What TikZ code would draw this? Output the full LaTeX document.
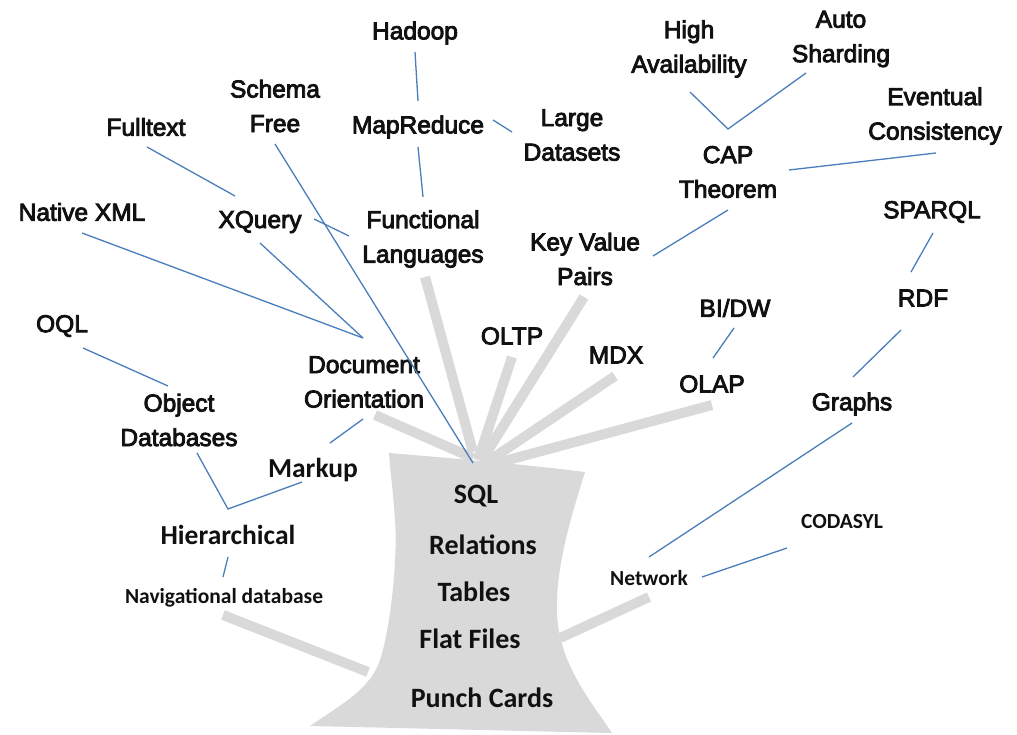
\documentclass[tikz,border=0pt]{standalone}
\usepackage{fontspec}
\newfontfamily\arialf{Liberation Sans}[FakeBold=3.5]
\newfontfamily\calf{Carlito}
\definecolor{trunkgray}{HTML}{D9D9D9}
\definecolor{linkblue}{HTML}{4A7EBB}
\definecolor{inkcol}{HTML}{111111}
\tikzset{
  lbl/.style={inner sep=0pt, align=center, text=inkcol, yshift=-2pt,
    font=\arialf\fontsize{24.5}{34.5}\selectfont},
  cal/.style={inner sep=0pt, align=center, text=inkcol, yshift=-2pt,
    font=\calf\bfseries\fontsize{27.5}{33}\selectfont},
  calsmall/.style={cal, font=\calf\bfseries\fontsize{21.5}{26}\selectfont},
  trunktext/.style={cal, font=\calf\bfseries\fontsize{28}{33}\selectfont},
  branch/.style={draw=trunkgray, line width=10pt, line cap=butt},
  link/.style={draw=linkblue, line width=1.3pt},
}
\begin{document}
\begin{tikzpicture}[x=1pt, y=-1pt]
\useasboundingbox (0,0) rectangle (1017,735);

% ---- trunk ----
\fill[trunkgray] (389,453) .. controls (450,458) and (530,465) .. (585,472)
  .. controls (570,520) and (555,570) .. (557,615)
  .. controls (560,665) and (590,700) .. (612,733)
  .. controls (520,731) and (400,728) .. (310,726)
  .. controls (340,705) and (370,690) .. (380,660)
  .. controls (390,630) and (398,560) .. (395,520)
  .. controls (393,490) and (390,470) .. (389,453) -- cycle;

% ---- branch roots and tips ----
\coordinate (b-fun-t) at (425,277); \coordinate (b-fun-r) at (473,452);
\coordinate (b-oltp-t) at (512,357); \coordinate (b-oltp-r) at (478,460);
\coordinate (b-kv-t) at (584,297);  \coordinate (b-kv-r) at (482,460);
\coordinate (b-mdx-t) at (615,376); \coordinate (b-mdx-r) at (487,462);
\coordinate (b-olap-t) at (712,405); \coordinate (b-olap-r) at (497,463);
\coordinate (b-doc-t) at (375,415); \coordinate (b-doc-r) at (473,458);
\coordinate (b-nav-t) at (223,615); \coordinate (b-nav-r) at (368,672);
\coordinate (b-net-t) at (649,597); \coordinate (b-net-r) at (560,638);

\foreach \b in {fun,oltp,kv,mdx,olap,doc,nav,net}
  \draw[branch] (b-\b-t) -- (b-\b-r);

% ---- labels ----
\node[lbl] (hadoop) at (415,31) {Hadoop};
\node[lbl] (mapreduce) at (418,125) {MapReduce};
\node[lbl] (schema) at (275,104) {Schema\\Free};
\node[lbl] (fulltext) at (146,125) {Fulltext};
\node[lbl] (nativexml) at (82,210) {Native XML};
\node[lbl] (xquery) at (260,220) {XQuery};
\node[lbl] (functional) at (423,237) {Functional\\Languages};
\node[lbl] (large) at (572,133) {Large\\Datasets};
\node[lbl] (highav) at (689,47) {High\\Availability};
\node[lbl] (autosh) at (841,37) {Auto\\Sharding};
\node[lbl] (eventual) at (935,114) {Eventual\\Consistency};
\node[lbl] (cap) at (728,170) {CAP\\Theorem};
\node[lbl] (sparql) at (932,210) {SPARQL};
\node[lbl] (keyvalue) at (585,257) {Key Value\\Pairs};
\node[lbl] (rdf) at (923,296) {RDF};
\node[lbl] (bidw) at (735,306) {BI/DW};
\node[lbl] (oltp) at (512,334) {OLTP};
\node[lbl] (mdx) at (616,353) {MDX};
\node[lbl] (olap) at (712,382) {OLAP};
\node[lbl] (graphs) at (852,402) {Graphs};
\node[lbl] (document) at (364,380) {Document\\Orientation};
\node[lbl] (oql) at (62,324) {OQL};
\node[lbl] (object) at (179,418) {Object\\Databases};

\node[cal] (markup) at (313,468) {Markup};
\node[cal] (hierarchical) at (228,533) {Hierarchical};
\node[calsmall] (navigational) at (224,596) {Navigational database};
\node[calsmall] (network) at (649,576) {Network};
\node[calsmall] (codasyl) at (842,520) {CODASYL};

\node[trunktext] (sql) at (476,494) {SQL};
\node[trunktext] (relations) at (483,543) {Relations};
\node[trunktext] (tables) at (474,590) {Tables};
\node[trunktext] (flatfiles) at (470,637) {Flat Files};
\node[trunktext] (punchcards) at (482,696) {Punch Cards};

% ---- connector end points ----
\coordinate (hadoop-s) at (415,52);   \coordinate (mapreduce-n) at (418,101);
\coordinate (mapreduce-s) at (418,147); \coordinate (functional-n) at (423,197);
\coordinate (mapreduce-e) at (493,120); \coordinate (large-w) at (512,132);
\coordinate (schema-s) at (275,144);  \coordinate (trunk-top) at (473,463);
\coordinate (fulltext-s) at (147,147); \coordinate (xquery-n) at (235,196);
\coordinate (xquery-e) at (314,219);  \coordinate (functional-w) at (349,236);
\coordinate (xquery-s) at (260,243);  \coordinate (document-n) at (363,338);
\coordinate (nativexml-s) at (82,233);
\coordinate (oql-s) at (83,348);      \coordinate (object-n) at (168,386);
\coordinate (object-s) at (197,453);  \coordinate (hier-fork) at (228,509);
\coordinate (markup-s) at (302,482);
\coordinate (document-s) at (363,419); \coordinate (markup-n) at (330,443);
\coordinate (hierarchical-s) at (228,557); \coordinate (navigational-n) at (223,577);
\coordinate (network-n) at (649,557); \coordinate (graphs-s) at (852,423);
\coordinate (network-e) at (702,577); \coordinate (codasyl-s) at (787,548);
\coordinate (highav-s) at (690,92);   \coordinate (cap-fork) at (728,129);
\coordinate (autosh-s) at (806,73);
\coordinate (cap-e) at (789,170);     \coordinate (eventual-s) at (936,153);
\coordinate (cap-s) at (728,210);     \coordinate (keyvalue-e) at (653,256);
\coordinate (sparql-s) at (933,233);  \coordinate (rdf-n) at (911,272);
\coordinate (rdf-s) at (901,330);     \coordinate (graphs-n) at (853,377);
\coordinate (bidw-s) at (734,328);    \coordinate (olap-n) at (713,358);

% ---- connectors ----
\draw[link] (hadoop-s) -- (mapreduce-n);
\draw[link] (mapreduce-s) -- (functional-n);
\draw[link] (mapreduce-e) -- (large-w);
\draw[link] (schema-s) -- (trunk-top);
\draw[link] (fulltext-s) -- (xquery-n);
\draw[link] (xquery-e) -- (functional-w);
\draw[link] (xquery-s) -- (document-n);
\draw[link] (nativexml-s) -- (document-n);
\draw[link] (oql-s) -- (object-n);
\draw[link] (object-s) -- (hier-fork) -- (markup-s);
\draw[link] (document-s) -- (markup-n);
\draw[link] (hierarchical-s) -- (navigational-n);
\draw[link] (network-n) -- (graphs-s);
\draw[link] (network-e) -- (codasyl-s);
\draw[link] (highav-s) -- (cap-fork) -- (autosh-s);
\draw[link] (cap-e) -- (eventual-s);
\draw[link] (cap-s) -- (keyvalue-e);
\draw[link] (sparql-s) -- (rdf-n);
\draw[link] (rdf-s) -- (graphs-n);
\draw[link] (bidw-s) -- (olap-n);
\end{tikzpicture}
\end{document}
